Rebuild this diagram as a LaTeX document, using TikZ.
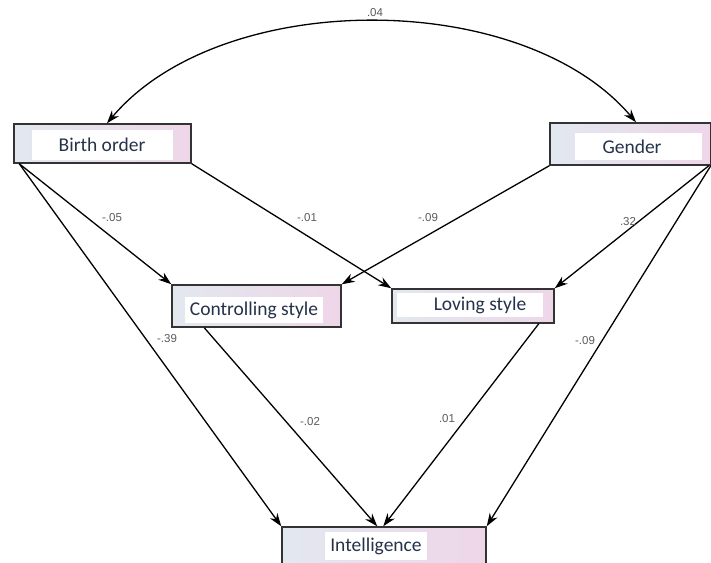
\documentclass[tikz,border=0pt]{standalone}
\usepackage{fontspec}
\setmainfont{Carlito}
\newfontfamily\lblfont{Liberation Sans}
\usetikzlibrary{arrows.meta}
\definecolor{boxL}{HTML}{E2E8F0}
\definecolor{boxR}{HTML}{EED6E8}
\definecolor{lblgray}{HTML}{5A5A5A}
\definecolor{txt}{HTML}{25324A}
\tikzset{
  box/.style={rectangle, draw=black!80, line width=1.5pt, left color=boxL, right color=boxR, inner sep=0pt},
  panel/.style={rectangle, fill=white, inner sep=0pt},
  boxtext/.style={rectangle, inner sep=0pt, font=\fontsize{19.5}{22}\selectfont, text=txt},
  coef/.style={font=\lblfont\fontsize{11.5}{13}\selectfont, text=lblgray, inner sep=0pt},
  path/.style={line width=1.3pt, -{Stealth[length=13pt,width=9pt]}},
}
\begin{document}
\begin{tikzpicture}[x=1pt,y=-1pt]
\useasboundingbox (0,0) rectangle (711,562);
% boxes
\node[box, minimum width=177pt, minimum height=39pt] (bo) at (102.5,143.5) {};
\node[box, minimum width=161pt, minimum height=42pt] (gd) at (630.5,144) {};
\node[box, minimum width=169pt, minimum height=42pt] (cs) at (256.5,306) {};
\node[box, minimum width=162pt, minimum height=34pt] (lv) at (473,306) {};
\node[box, minimum width=204pt, minimum height=48pt] (in) at (384,551) {};
% white panels
\node[panel, minimum width=141pt, minimum height=30pt] (bop) at (102,144.5) {};
\node[panel, minimum width=127pt, minimum height=27pt] (gdp) at (638,146.5) {};
\node[panel, minimum width=138pt, minimum height=26pt] (csp) at (254,310) {};
\node[panel, minimum width=146pt, minimum height=24pt] (lvp) at (470,305) {};
\node[panel, minimum width=102pt, minimum height=28pt] (inp) at (376,546) {};
% texts
\node[boxtext] (bot) at (102,144.5) {Birth order};
\node[boxtext] (gdt) at (632,146.5) {Gender};
\node[boxtext] (cst) at (254,310) {Controlling style};
\node[boxtext] (lvt) at (480,305) {Loving style};
\node[boxtext] (int) at (376,546) {Intelligence};
% covariance
\draw[path, {Stealth[length=13pt,width=9pt]}-{Stealth[length=13pt,width=9pt]}]
  ([xshift=4.5pt]bo.north) .. controls (221,-12) and (522,-12) .. ([xshift=5.5pt]gd.north);
% paths
\draw[path] ([xshift=6pt]bo.south west) -- (cs.north west);
\draw[path] (bo.south east) -- (lv.north west);
\draw[path] (gd.south west) -- (cs.north east);
\draw[path] ([xshift=-3pt]gd.south east) -- (lv.north east);
\draw[path] ([xshift=6pt]bo.south west) -- (in.north west);
\draw[path] ([xshift=-1pt]gd.south east) -- (in.north east);
\draw[path] ([xshift=33pt]cs.south west) -- ([xshift=96pt]in.north west);
\draw[path] ([xshift=-16pt]lv.south east) -- ([xshift=102pt]in.north west);
% coefficients
\node[coef] (c1) at (375,13) {.04};
\node[coef] (c2) at (112,218) {-.05};
\node[coef] (c3) at (307,218) {-.01};
\node[coef] (c4) at (428,218) {-.09};
\node[coef] (c5) at (628,222) {.32};
\node[coef] (c6) at (167,339) {-.39};
\node[coef] (c7) at (310,422) {-.02};
\node[coef] (c8) at (447,419) {.01};
\node[coef] (c9) at (585,341) {-.09};
\end{tikzpicture}
\end{document}
